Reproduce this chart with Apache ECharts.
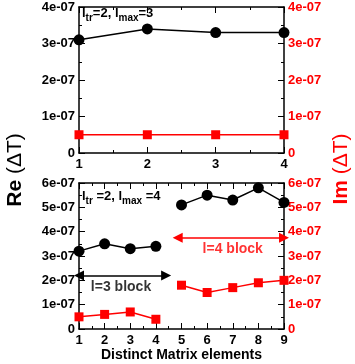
<!DOCTYPE html>
<html><head><meta charset="utf-8">
<script src="https://cdn.jsdelivr.net/npm/echarts@6/dist/echarts.min.js"></script>
<style>html,body{margin:0;padding:0;background:#fff}#c{width:355px;height:364px}</style>
</head><body><div id="c"></div>
<script>
// ---- data ----
const topX = [1, 2, 3, 4];
const topRe = [3.1e-7, 3.4e-7, 3.3e-7, 3.3e-7];
const topIm = [5e-8, 5e-8, 5e-8, 5e-8];
const botX3 = [1, 2, 3, 4];
const botRe3 = [3.2e-7, 3.5e-7, 3.3e-7, 3.4e-7];
const botIm3 = [5e-8, 6e-8, 7e-8, 4e-8];
const botX4 = [5, 6, 7, 8, 9];
const botRe4 = [5.1e-7, 5.5e-7, 5.3e-7, 5.8e-7, 5.2e-7];
const botIm4 = [1.8e-7, 1.5e-7, 1.7e-7, 1.9e-7, 2.0e-7];
const blockArrows = [
  {from: [1, 2.2e-7], to: [4.4, 2.2e-7], color: '#000000'},
  {from: [4.85, 3.75e-7], to: [9, 3.75e-7], color: '#ff0000'}
];
const blockLabels = [
  {pos: [2.64, 1.74e-7], text: 'l=3 block', color: '#000000'},
  {pos: [7.0, 3.28e-7], text: 'l=4 block', color: '#ff0000'}
];

const FONT = '"Liberation Sans", Arial, sans-serif';
const RED = '#ff0000';
function fmt(v) {
  if (Math.abs(v) < 1e-20) return '0';
  const s = v.toExponential(0);
  const parts = s.split('e');
  const e = parts[1];
  const sign = e[0] === '-' ? '-' : '+';
  const d = e.replace(/^[+-]/, '');
  return parts[0] + 'e' + sign + d.padStart(2, '0');
}
const zip = (xs, ys) => xs.map((x, i) => [x, ys[i]]);

function xAx(gi, pos, max, showLabel, extra) {
  return Object.assign({
    type: 'value', gridIndex: gi, position: pos, min: 1, max: max, interval: 1,
    axisLine: {show: true, onZero: false, lineStyle: {color: '#000', width: 1.5}},
    axisTick: {show: true, inside: true, length: 6, lineStyle: {color: '#000', width: 1}},
    minorTick: {show: true, splitNumber: 2, length: 3, lineStyle: {color: '#000', width: 1}},
    axisLabel: {show: showLabel, color: '#000', fontFamily: FONT, fontWeight: 'bold', fontSize: 13, margin: 5},
    splitLine: {show: false}
  }, extra || {});
}
function yAx(gi, pos, max, color) {
  return {
    type: 'value', gridIndex: gi, position: pos, min: 0, max: max, interval: 1e-7,
    axisLine: {show: true, onZero: false, lineStyle: {color: '#000', width: 1.5}},
    axisTick: {show: true, inside: true, length: 6, lineStyle: {color: '#000', width: 1}},
    minorTick: {show: true, splitNumber: 2, length: 3, lineStyle: {color: '#000', width: 1}},
    axisLabel: {show: true, color: color, fontFamily: FONT, fontWeight: 'bold', fontSize: 13, margin: 4, formatter: fmt},
    splitLine: {show: false}
  };
}
function lineSeries(xi, yi, data, color, symbol, size) {
  return {
    type: 'line', xAxisIndex: xi, yAxisIndex: yi, data: data,
    symbol: symbol, symbolSize: size, showAllSymbol: true,
    lineStyle: {color: color, width: 1.5}, itemStyle: {color: color},
    silent: true, animation: false
  };
}

const chart = echarts.init(document.getElementById('c'), null, {renderer: 'canvas'});
const series = [
  lineSeries(1, 1, zip(topX, topIm), RED, 'rect', 9),
  lineSeries(0, 0, zip(topX, topRe), '#000', 'circle', 11),
  lineSeries(3, 3, zip(botX3, botIm3), RED, 'rect', 9),
  lineSeries(3, 3, zip(botX4, botIm4), RED, 'rect', 9),
  lineSeries(2, 2, zip(botX3, botRe3), '#000', 'circle', 11),
  lineSeries(2, 2, zip(botX4, botRe4), '#000', 'circle', 11)
];
blockArrows.forEach(a => {
  series.push({
    type: 'line', xAxisIndex: 2, yAxisIndex: 2, data: [], silent: true, animation: false,
    markLine: {
      silent: true, animation: false, symbol: ['triangle', 'triangle'], symbolSize: 10,
      label: {show: false}, emphasis: {disabled: true},
      itemStyle: {color: a.color, opacity: 1},
      lineStyle: {color: a.color, width: 1.5, type: 'solid', opacity: 1},
      data: [[{coord: a.from}, {coord: a.to}]]
    }
  });
});
blockLabels.forEach(l => {
  series.push({
    type: 'scatter', xAxisIndex: 2, yAxisIndex: 2, data: [l.pos], symbolSize: 0, silent: true, animation: false,
    label: {show: true, position: 'inside', formatter: l.text, color: l.color, fontFamily: FONT, fontWeight: 'bold', fontSize: 14}
  });
});

const sub = {fontFamily: FONT, fontWeight: 'bold', fontSize: 10, lineHeight: 20, verticalAlign: 'bottom', fill: '#000'};
const main = {fontFamily: FONT, fontWeight: 'bold', fontSize: 13, lineHeight: 20, verticalAlign: 'middle', fill: '#000'};

chart.setOption({
  backgroundColor: '#fff',
  animation: false,
  grid: [
    {left: 79, right: 71, top: 7, height: 146, show: false},
    {left: 79, right: 71, top: 183, height: 146, show: false}
  ],
  xAxis: [
    xAx(0, 'bottom', 4, true),
    xAx(0, 'top', 4, false),
    xAx(1, 'bottom', 9, true, {name: 'Distinct Matrix elements', nameLocation: 'middle', nameGap: 18,
      nameTextStyle: {color: '#000', fontFamily: FONT, fontWeight: 'bold', fontSize: 14, verticalAlign: 'top'}}),
    xAx(1, 'top', 9, false)
  ],
  yAxis: [
    yAx(0, 'left', 4e-7, '#000'),
    yAx(0, 'right', 4e-7, RED),
    yAx(1, 'left', 6e-7, '#000'),
    yAx(1, 'right', 6e-7, RED)
  ],
  series: series,
  graphic: [
    {type: 'text', left: 82, top: 7, silent: true, style: {
      text: '{m|l}{s|tr}{m|=2, l}{s|max}{m|=3}', rich: {m: main, s: sub}}},
    {type: 'text', left: 82, top: 190, silent: true, style: {
      text: '{m|l}{s|tr}{m| =2, l}{s|max}{m| =4}', rich: {m: main, s: sub}}},
    {type: 'text', x: 15, y: 170, rotation: Math.PI / 2, silent: true, style: {
      text: '{b|Re }{n|(ΔT)}', align: 'center', verticalAlign: 'middle',
      rich: {b: {fontFamily: FONT, fontWeight: 'bold', fontSize: 21, fill: '#000'},
             n: {fontFamily: FONT, fontWeight: 'normal', fontSize: 21, fill: '#000'}}}},
    {type: 'text', x: 341, y: 169, rotation: Math.PI / 2, silent: true, style: {
      text: '{b|Im }{n|(ΔT)}', align: 'center', verticalAlign: 'middle',
      rich: {b: {fontFamily: FONT, fontWeight: 'bold', fontSize: 21, fill: RED},
             n: {fontFamily: FONT, fontWeight: 'normal', fontSize: 21, fill: RED}}}}
  ]
});
</script></body></html>
